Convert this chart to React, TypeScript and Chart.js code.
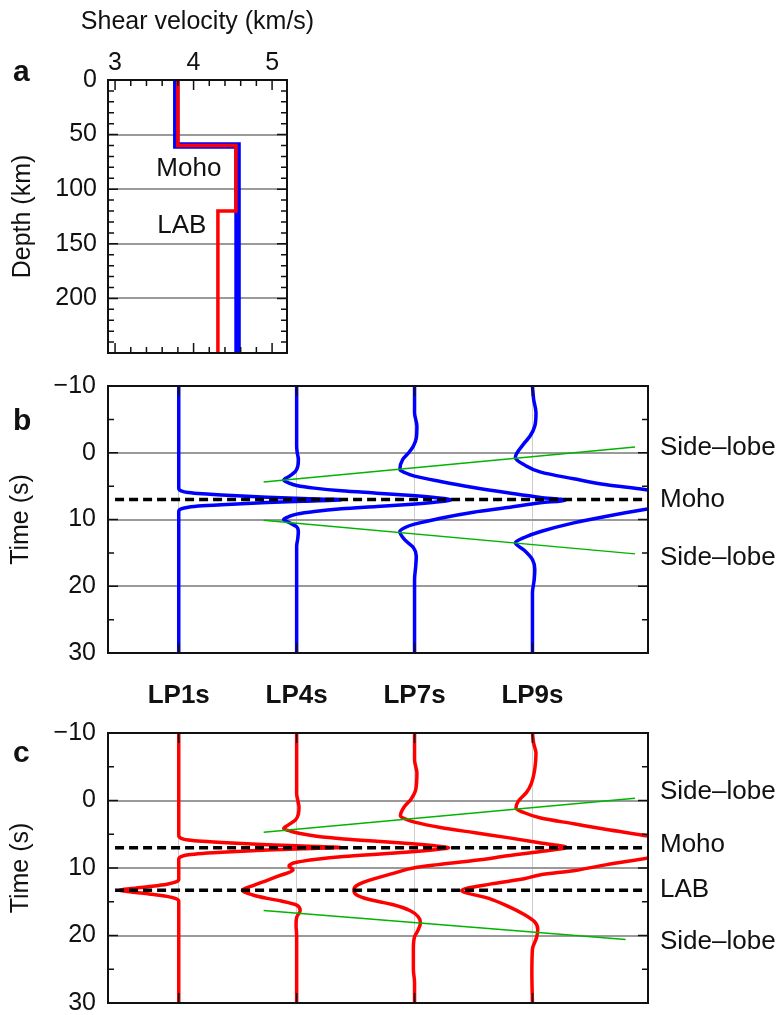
import React, { useEffect, useRef } from "react";
import { Chart, registerables } from "chart.js";

Chart.register(...registerables);

const FONT = "'Liberation Sans', Arial, Helvetica, sans-serif";
const INK = "#111111";
const GRID_GRAY = "#9a9a9a";
const TRACE_GRID = "#cdcdcd";
const BLUE = "#0000ff";
const RED = "#ff0000";
const GREEN = "#00b400";

// ---------- Panel a: shear-velocity models ----------
const VS_TITLE = "Shear velocity (km/s)";
const VS_TICKS = [3, 4, 5];
const VS_MINOR = [3.2, 3.4, 3.6, 3.8, 4.2, 4.4, 4.6, 4.8];
const DEPTH_TICKS = [0, 50, 100, 150, 200];
const DEPTH_MAJOR = [0, 50, 100, 150, 200, 250];
const DEPTH_MINOR = [10, 20, 30, 40, 60, 70, 80, 90, 110, 120, 130, 140, 160, 170, 180, 190, 210, 220, 230, 240];
const BLUE_DEPTH = [0, 60, 60, 250];
const BLUE_VS = [3.78, 3.78, 4.56, 4.56];
const RED_DEPTH = [0, 60, 60, 120, 120, 250];
const RED_VS = [3.8, 3.8, 4.54, 4.54, 4.31, 4.31];
const MODEL_LABELS = [
  { text: "Moho", x: 3.94, y: 81 },
  { text: "LAB", x: 3.85, y: 134 },
];

// ---------- Panels b, c: filtered receiver functions ----------
const TRACE_NAMES = ["LP1s", "LP4s", "LP7s", "LP9s"];
const TRACE_BASE = [1, 2, 3, 4];
const TIME_TICKS = [-10, 0, 10, 20, 30];
const TIME_MINOR = [-5, 5, 15, 25];

// [time (s), amplitude] per trace
const B_LP1S = [[-10, 0], [5.3, 0], [5.7, 0.02], [5.95, 0.08], [6.15, 0.2], [6.4, 0.45], [6.65, 0.75], [6.85, 1.05], [7.05, 1.38], [7.25, 1.05], [7.45, 0.75], [7.7, 0.45], [7.95, 0.2], [8.15, 0.08], [8.4, 0.02], [8.8, 0], [30, 0]];
const B_LP4S = [[-10, 0], [-1, 0], [0, 0.005], [1, 0.015], [2, 0.01], [2.8, -0.01], [3.5, -0.06], [4.1, -0.11], [4.5, -0.07], [4.9, 0.0], [5.3, 0.15], [5.7, 0.38], [6.05, 0.68], [6.4, 0.98], [6.7, 1.17], [7.05, 1.31], [7.4, 1.17], [7.7, 0.98], [8.05, 0.68], [8.4, 0.38], [8.8, 0.15], [9.2, 0.0], [9.6, -0.07], [10.0, -0.11], [10.5, -0.06], [11.1, 0.0], [11.8, 0.015], [12.8, 0.01], [14, 0], [30, 0]];
const B_LP7S = [[-10, 0], [-6, 0], [-4, 0.02], [-2.2, 0.015], [-1, -0.01], [0, -0.05], [1, -0.1], [2.5, -0.125], [3.0, -0.08], [3.5, 0.0], [4.3, 0.22], [5.2, 0.5], [6.0, 0.79], [6.7, 1.07], [7.08, 1.28], [7.5, 1.07], [8.2, 0.79], [8.9, 0.5], [9.8, 0.22], [10.7, 0.0], [11.2, -0.08], [11.8, -0.125], [13.1, -0.08], [14.2, -0.01], [15.5, 0.015], [17, 0.01], [19, 0], [30, 0]];
const B_LP9S = [[-10, 0], [-8, 0.01], [-6, 0.03], [-4, 0.02], [-2.5, -0.02], [-1.2, -0.08], [0.7, -0.145], [1.8, -0.07], [2.9, 0.07], [3.9, 0.35], [4.8, 0.63], [5.5, 0.95], [6.2, 1.13], [7.1, 1.26], [8.0, 1.13], [8.5, 0.95], [9.5, 0.63], [10.5, 0.35], [11.8, 0.07], [12.7, -0.07], [13.5, -0.145], [14.6, -0.07], [16.0, 0.0], [17.5, 0.02], [19, 0.015], [21, 0], [30, 0]];

const C_LP1S = [[-10, 0], [5.2, 0], [5.6, 0.02], [5.85, 0.08], [6.05, 0.2], [6.3, 0.45], [6.55, 0.75], [6.75, 1.05], [6.95, 1.37], [7.15, 1.05], [7.35, 0.75], [7.6, 0.45], [7.85, 0.2], [8.05, 0.08], [8.3, 0.02], [8.7, 0], [11.7, 0], [12.1, -0.03], [12.4, -0.1], [12.75, -0.25], [13.05, -0.4], [13.3, -0.5], [13.55, -0.4], [13.85, -0.25], [14.2, -0.1], [14.5, -0.03], [14.9, 0], [30, 0]];
const C_LP4S = [[-10, 0], [-1, 0], [0, 0.01], [1, 0.02], [2, 0.015], [2.9, -0.01], [3.6, -0.07], [4.15, -0.11], [4.55, -0.05], [4.9, 0.03], [5.3, 0.17], [5.7, 0.4], [6.05, 0.68], [6.4, 0.98], [6.7, 1.17], [7.0, 1.29], [7.3, 1.17], [7.6, 0.98], [7.95, 0.68], [8.3, 0.4], [8.7, 0.17], [9.15, 0.0], [9.7, -0.065], [10.3, -0.03], [11.1, -0.14], [11.9, -0.26], [12.6, -0.37], [13.3, -0.46], [14.0, -0.37], [14.5, -0.25], [14.9, -0.13], [15.5, 0.0], [16.3, 0.03], [17.3, 0.0], [18.5, -0.005], [20, 0], [30, 0]];
const C_LP7S = [[-10, 0], [-6, 0], [-4.1, 0.02], [-1.6, 0.01], [-0.2, -0.03], [1.0, -0.09], [2.3, -0.12], [2.8, -0.07], [3.2, 0.0], [4.0, 0.22], [4.75, 0.5], [5.5, 0.79], [6.3, 1.07], [6.95, 1.29], [7.55, 1.07], [8.2, 0.79], [8.9, 0.5], [9.5, 0.2], [9.95, 0.0], [10.8, -0.18], [11.9, -0.4], [12.6, -0.49], [13.3, -0.515], [14.0, -0.49], [14.6, -0.4], [15.45, -0.18], [16.3, -0.04], [17.2, 0.03], [18.1, 0.05], [19.2, 0.03], [20.2, 0.0], [22, -0.01], [25, -0.01], [27, 0], [30, 0]];
const C_LP9S = [[-10, 0], [-8.5, 0.01], [-7, 0.03], [-4.7, 0.02], [-2.5, -0.01], [-1.2, -0.05], [0.1, -0.12], [1.1, -0.14], [1.8, -0.07], [2.6, 0.07], [3.45, 0.35], [4.3, 0.63], [5.3, 0.99], [6.1, 1.18], [6.95, 1.27], [7.8, 1.18], [8.5, 0.99], [9.5, 0.63], [10.4, 0.35], [11.0, 0.07], [11.6, -0.07], [12.35, -0.35], [13.33, -0.6], [14.5, -0.37], [15.65, -0.21], [16.9, -0.07], [18.0, 0.02], [19.1, 0.045], [20.3, 0.035], [22, 0], [25.6, -0.005], [30, 0]];

// side-lobe guide lines: [trace-axis position, time]
const B_LOBE_EARLY = [[4.87, -0.85], [1.72, 4.4]];
const B_LOBE_LATE = [[1.72, 10.1], [4.87, 15.15]];
const C_LOBE_EARLY = [[4.87, -0.35], [1.72, 4.7]];
const C_LOBE_LATE = [[1.72, 16.3], [4.79, 20.6]];

const DASH_X = [0.46, 4.98];
const B_DASH_T = [7.0];
const C_DASH_T = [7.0, 13.3];

const B_RIGHT = [
  { t: -0.75, text: "Side\u2013lobe" },
  { t: 7.0, text: "Moho" },
  { t: 15.7, text: "Side\u2013lobe" },
];
const C_RIGHT = [
  { t: -1.3, text: "Side\u2013lobe" },
  { t: 6.6, text: "Moho" },
  { t: 13.2, text: "LAB" },
  { t: 21.0, text: "Side\u2013lobe" },
];

const framePlugin = {
  id: "frame",
  afterDatasetsDraw(chart: any, _args: any, opts: any) {
    const { ctx, chartArea: a } = chart;
    const xs = chart.scales.x;
    const ys = chart.scales.y;
    ctx.save();
    ctx.strokeStyle = INK;
    ctx.lineWidth = 1.5;
    ctx.beginPath();
    const xt = (vals: number[], len: number) =>
      vals.forEach((v) => {
        const p = xs.getPixelForValue(v);
        ctx.moveTo(p, a.top);
        ctx.lineTo(p, a.top + len);
        ctx.moveTo(p, a.bottom);
        ctx.lineTo(p, a.bottom - len);
      });
    const yt = (vals: number[], len: number) =>
      vals.forEach((v) => {
        const p = ys.getPixelForValue(v);
        ctx.moveTo(a.left, p);
        ctx.lineTo(a.left + len, p);
        ctx.moveTo(a.right, p);
        ctx.lineTo(a.right - len, p);
      });
    xt(opts.xMajor || [], 10);
    xt(opts.xMinor || [], 6);
    yt(opts.yMajor || [], 10);
    yt(opts.yMinor || [], 6);
    ctx.stroke();
    ctx.lineWidth = 2;
    ctx.strokeRect(a.left, a.top, a.right - a.left, a.bottom - a.top);
    ctx.fillStyle = INK;
    ctx.textAlign = "center";
    ctx.textBaseline = "middle";
    ctx.font = `26px ${FONT}`;
    (opts.texts || []).forEach((t: any) => {
      ctx.fillText(t.text, xs.getPixelForValue(t.x), ys.getPixelForValue(t.y));
    });
    if (opts.topTitle) {
      // axis title above the top tick labels, allowed to be wider than the plot
      ctx.font = `25px ${FONT}`;
      ctx.fillText(opts.topTitle, (a.left + a.right) / 2, a.top - 58);
    }
    ctx.restore();
  },
};

const tickFont = { family: FONT, size: 25 };
const fmtTime = (v: number) => (v < 0 ? "\u2212" + Math.abs(v) : String(v));

function makeModelChart(canvas: HTMLCanvasElement) {
  const blue = BLUE_DEPTH.map((d, i) => ({ x: BLUE_VS[i], y: d }));
  const red = RED_DEPTH.map((d, i) => ({ x: RED_VS[i], y: d }));
  return new Chart(canvas, {
    type: "line",
    data: {
      datasets: [
        { data: red, borderColor: RED, borderWidth: 3.5, pointRadius: 0, tension: 0 },
        { data: blue, borderColor: BLUE, borderWidth: 6.5, pointRadius: 0, tension: 0 },
      ],
    },
    plugins: [framePlugin],
    options: {
      indexAxis: "y",
      responsive: false,
      animation: false,
      events: [],
      layout: { padding: { top: 0, right: 53, bottom: 17, left: 0 } },
      plugins: {
        legend: { display: false },
        tooltip: { enabled: false },
        frame: { xMajor: VS_TICKS, xMinor: VS_MINOR, yMajor: DEPTH_MAJOR, yMinor: DEPTH_MINOR, texts: MODEL_LABELS, topTitle: VS_TITLE },
      } as any,
      scales: {
        x: {
          type: "linear",
          position: "top",
          min: 2.91,
          max: 5.19,
          afterBuildTicks: (s: any) => { s.ticks = VS_TICKS.map((v) => ({ value: v })); },
          afterFit: (s: any) => { s.height = 80; s.paddingLeft = 0; s.paddingRight = 0; },
          ticks: { font: tickFont, color: INK, padding: 2, maxRotation: 0, autoSkip: false },
          grid: { display: false, drawTicks: false },
          border: { display: false },
        },
        y: {
          type: "linear",
          position: "left",
          reverse: true,
          min: 0,
          max: 250,
          afterBuildTicks: (s: any) => { s.ticks = DEPTH_TICKS.map((v) => ({ value: v })); },
          afterFit: (s: any) => { s.width = 108; s.paddingTop = 0; s.paddingBottom = 0; },
          ticks: { font: tickFont, color: INK, padding: 11, autoSkip: false },
          grid: { color: GRID_GRAY, lineWidth: 2, drawTicks: false },
          border: { display: false },
          title: { display: true, text: "Depth (km)", font: tickFont, color: INK, padding: { top: 8, bottom: 0 } },
        },
      } as any,
    },
  } as any);
}

function makeTraceChart(
  canvas: HTMLCanvasElement,
  cfg: { traces: number[][][]; color: string; lobes: number[][][]; dashes: number[]; right: { t: number; text: string }[]; top: number; bottom: number; topAxis: boolean }
) {
  const datasets: any[] = [];
  cfg.dashes.forEach((t) =>
    datasets.push({
      data: DASH_X.map((x) => ({ x, y: t })),
      borderColor: "#000",
      borderWidth: 3.5,
      borderDash: [9, 5],
      pointRadius: 0,
    })
  );
  cfg.lobes.forEach((l) =>
    datasets.push({
      data: l.map(([x, t]) => ({ x, y: t })),
      borderColor: GREEN,
      borderWidth: 1.5,
      pointRadius: 0,
    })
  );
  cfg.traces.forEach((tr, i) =>
    datasets.push({
      data: tr.map(([t, a]) => ({ x: TRACE_BASE[i] + a, y: t })),
      borderColor: cfg.color,
      borderWidth: 3.5,
      pointRadius: 0,
      cubicInterpolationMode: "monotone",
    })
  );
  return new Chart(canvas, {
    type: "line",
    data: { datasets },
    plugins: [framePlugin],
    options: {
      indexAxis: "y",
      responsive: false,
      animation: false,
      events: [],
      layout: { padding: { top: cfg.topAxis ? 0 : cfg.top, right: 0, bottom: cfg.topAxis ? cfg.bottom : 0, left: 0 } },
      plugins: {
        legend: { display: false },
        tooltip: { enabled: false },
        frame: { xMajor: TRACE_BASE, yMajor: TIME_TICKS, yMinor: TIME_MINOR },
      } as any,
      scales: {
        x: {
          type: "linear",
          position: cfg.topAxis ? "top" : "bottom",
          min: 0.4,
          max: 4.98,
          afterBuildTicks: (s: any) => { s.ticks = TRACE_BASE.map((v) => ({ value: v })); },
          afterFit: (s: any) => { s.height = cfg.topAxis ? cfg.top : cfg.bottom; s.paddingLeft = 0; s.paddingRight = 0; },
          ticks: {
            display: cfg.topAxis,
            font: { family: FONT, size: 26, weight: "bold" },
            color: INK,
            padding: 22,
            maxRotation: 0,
            autoSkip: false,
            callback: (_v: any, i: number) => TRACE_NAMES[i],
          },
          grid: { color: TRACE_GRID, lineWidth: 1, drawTicks: false },
          border: { display: false },
        },
        y: {
          type: "linear",
          position: "left",
          reverse: true,
          min: -10,
          max: 30,
          afterBuildTicks: (s: any) => { s.ticks = TIME_TICKS.map((v) => ({ value: v })); },
          afterFit: (s: any) => { s.width = 108; s.paddingTop = 0; s.paddingBottom = 0; },
          ticks: { font: tickFont, color: INK, padding: 12, autoSkip: false, callback: (v: any) => fmtTime(Number(v)) },
          grid: { color: GRID_GRAY, lineWidth: 2, drawTicks: false },
          border: { display: false },
          title: { display: true, text: "Time (s)", font: tickFont, color: INK, padding: { top: 6, bottom: 0 } },
        },
        y2: {
          type: "linear",
          position: "right",
          reverse: true,
          min: -10,
          max: 30,
          afterBuildTicks: (s: any) => { s.ticks = cfg.right.map((r) => ({ value: r.t })); },
          afterFit: (s: any) => { s.width = 135; s.paddingTop = 0; s.paddingBottom = 0; },
          ticks: { font: { family: FONT, size: 26 }, color: INK, padding: 12, autoSkip: false, callback: (_v: any, i: number) => cfg.right[i].text },
          grid: { display: false, drawTicks: false },
          border: { display: false },
        },
      } as any,
    },
  } as any);
}

const letterStyle = (top: number): React.CSSProperties => ({
  position: "absolute",
  left: 13,
  top,
  font: `bold 30px ${FONT}`,
  lineHeight: "30px",
  color: INK,
});

export default function App() {
  const refA = useRef<HTMLCanvasElement>(null);
  const refB = useRef<HTMLCanvasElement>(null);
  const refC = useRef<HTMLCanvasElement>(null);

  useEffect(() => {
    const charts = [
      makeModelChart(refA.current!),
      makeTraceChart(refB.current!, {
        traces: [B_LP1S, B_LP4S, B_LP7S, B_LP9S],
        color: BLUE,
        lobes: [B_LOBE_EARLY, B_LOBE_LATE],
        dashes: B_DASH_T,
        right: B_RIGHT,
        top: 16,
        bottom: 17,
        topAxis: false,
      }),
      makeTraceChart(refC.current!, {
        traces: [C_LP1S, C_LP4S, C_LP7S, C_LP9S],
        color: RED,
        lobes: [C_LOBE_EARLY, C_LOBE_LATE],
        dashes: C_DASH_T,
        right: C_RIGHT,
        top: 63,
        bottom: 12,
        topAxis: true,
      }),
    ];
    return () => charts.forEach((c) => c.destroy());
  }, []);

  return (
    <div style={{ position: "absolute", left: 0, top: 0, width: 783, height: 1015, background: "#fff", overflow: "hidden" }}>
      <canvas ref={refA} width={340} height={370} style={{ position: "absolute", left: 0, top: 0 }} />
      <canvas ref={refB} width={783} height={300} style={{ position: "absolute", left: 0, top: 370 }} />
      <canvas ref={refC} width={783} height={345} style={{ position: "absolute", left: 0, top: 670 }} />
      <div style={letterStyle(56)}>a</div>
      <div style={letterStyle(405)}>b</div>
      <div style={letterStyle(737)}>c</div>
    </div>
  );
}
